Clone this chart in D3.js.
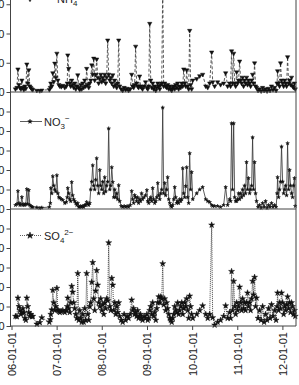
<!DOCTYPE html>
<html>
<head>
<meta charset="utf-8">
<script src="https://cdn.jsdelivr.net/npm/d3@7"></script>
<style>
  body { margin: 0; background: #fff; }
  svg { display: block; font-family: "Liberation Sans", Arial, sans-serif; }
</style>
</head>
<body>
<div id="chart"></div>
<script>
// sample dates (shared by the three ions)
const sampleDates = [
  "2006-02-02","2006-02-14","2006-02-22","2006-03-02","2006-03-10","2006-03-18","2006-03-26","2006-04-03","2006-04-11","2006-04-19",
  "2006-04-27","2006-05-05","2006-05-13","2006-05-21","2006-05-29","2006-06-06","2006-06-14","2006-06-22","2006-07-25","2006-08-18",
  "2006-09-03","2006-11-03","2006-11-11","2006-11-15","2006-11-23","2006-12-01","2006-12-09","2006-12-17","2006-12-25",
  "2007-01-03","2007-01-11","2007-01-19","2007-01-27","2007-02-08","2007-02-20","2007-03-08","2007-03-20","2007-03-28","2007-04-01",
  "2007-04-09","2007-04-17","2007-04-25","2007-05-03","2007-05-11","2007-05-19","2007-05-27","2007-06-05","2007-06-13","2007-06-21",
  "2007-06-29","2007-07-07","2007-07-15","2007-07-23","2007-07-31","2007-08-08","2007-08-16","2007-08-24","2007-09-01","2007-09-10",
  "2007-09-18","2007-09-26","2007-10-04","2007-10-12","2007-10-20","2007-10-28","2007-11-05","2007-11-13","2007-11-21","2007-11-29",
  "2007-12-07","2007-12-16","2007-12-24",
  "2008-01-01","2008-01-09","2008-01-17","2008-01-25","2008-02-02","2008-02-10","2008-02-18","2008-02-26","2008-03-06","2008-03-14",
  "2008-03-22","2008-03-30","2008-04-07","2008-04-15","2008-04-23","2008-05-01","2008-05-09","2008-05-17","2008-05-25","2008-06-06",
  "2008-06-18","2008-06-30","2008-07-12","2008-07-24","2008-08-05","2008-08-18","2008-08-30","2008-09-07","2008-09-15","2008-09-23",
  "2008-10-01","2008-10-09","2008-10-17","2008-10-25","2008-11-02","2008-11-10","2008-11-18","2008-11-26","2008-12-08","2008-12-20",
  "2008-12-31",
  "2009-01-07","2009-01-15","2009-01-23","2009-01-31","2009-02-08","2009-02-16","2009-02-24","2009-03-04","2009-03-13","2009-03-21",
  "2009-03-29","2009-04-06","2009-04-14","2009-04-22","2009-04-30","2009-05-08","2009-05-16","2009-05-24","2009-06-01","2009-06-09",
  "2009-06-17","2009-06-26","2009-07-04","2009-07-12","2009-07-20","2009-07-28","2009-08-05","2009-08-13","2009-08-21","2009-08-29",
  "2009-09-06","2009-09-14","2009-09-22","2009-10-01","2009-10-09","2009-10-17","2009-10-25","2009-11-02","2009-11-10","2009-11-18",
  "2009-11-26","2009-12-04","2009-12-12","2009-12-20","2009-12-28",
  "2010-01-06","2010-02-07","2010-03-03","2010-03-27","2010-04-21","2010-05-07","2010-05-23","2010-06-08","2010-06-16","2010-07-02",
  "2010-07-26","2010-08-19","2010-09-13","2010-09-29","2010-10-15","2010-10-31","2010-11-08","2010-11-16","2010-11-24","2010-12-03",
  "2010-12-11","2010-12-19","2010-12-27",
  "2011-01-04","2011-01-12","2011-01-20","2011-01-28","2011-02-05","2011-02-13","2011-02-21","2011-03-01","2011-03-09","2011-03-17",
  "2011-03-25","2011-04-02","2011-04-11","2011-04-19","2011-04-27","2011-05-05","2011-05-13","2011-05-21","2011-05-29","2011-06-06",
  "2011-06-18","2011-06-30","2011-07-13","2011-07-25","2011-08-06","2011-08-18","2011-08-30","2011-09-11","2011-09-23","2011-10-05",
  "2011-10-17","2011-10-30","2011-11-11","2011-11-19","2011-11-23","2011-12-01","2011-12-09","2011-12-17","2011-12-25",
  "2012-01-03","2012-01-11","2012-01-19","2012-01-27","2012-02-04","2012-02-12","2012-02-20","2012-02-28","2012-03-07","2012-03-15",
  "2012-03-23","2012-03-31","2012-04-08","2012-04-14"
];

// NH4+
const nh4 = [
  1.0,1.5,7.8,2.5,1.5,1.0,4.0,1.5,0.8,2.0, 1.2,9.5,3.0,7.5,2.0,1.5,1.0,0.8,0.5,0.4, 0.6,0.8,1.5,3.0,2.0,6.5,3.5,9.8,5.0,
  13.2,4.0,2.5,2.0,1.8,2.2,1.5,2.0,3.0,12.6, 8.0,3.0,2.0,4.0,2.5,1.5,3.0,1.0,2.0,5.8, 1.5,0.8,2.5,1.0,3.0,1.5,4.0,2.0,8.0,2.5,
  1.5,3.0,4.0,9.2,6.0,11.5,4.0,6.0,11.2,5.0, 3.0,4.5,6.0,
  3.5,5.0,4.0,6.0,3.0,5.0,17.7,6.0,4.0,5.0, 3.0,5.8,2.0,4.0,2.5,1.5,3.0,17.7,2.0,1.0, 0.5,1.5,0.8,1.2,0.5,1.0,6.0,2.0,1.5,2.5,
  15.6,3.0,2.0,1.5,5.4,2.0,1.5,1.0,2.0,3.4, 1.5,
  1.0,2.0,23.4,4.0,1.5,3.0,1.0,2.0,0.5,1.5, 3.0,2.0,1.0,2.5,3.0,36.0,2.0,3.0,2.0,1.5, 2.5,1.0,2.0,1.0,0.5,1.5,2.0,1.0,2.5,1.5,
  3.0,1.0,2.0,1.5,3.0,2.0,7.8,3.0,2.0,7.5, 2.0,1.0,21.0,2.5,1.0,
  4.0,4.5,5.5,6.0,2.0,1.5,3.0,13.6,3.4,2.0, 3.4,2.5,3.0,6.5,2.0,3.0,2.0,14.0,3.0,13.2, 3.0,2.0,6.8,
  3.0,4.0,10.5,4.0,3.0,5.0,2.0,4.0,3.0,5.0, 2.5,4.0,3.0,2.0,4.0,6.0,3.0,9.9,2.0,1.5, 0.5,1.0,0.3,1.5,0.5,1.0,0.3,1.2,0.5,2.0,
  0.8,1.5,0.5,3.0,7.2,3.0,2.0,9.9,4.0,
  3.0,2.0,4.0,3.0,2.0,12.0,3.0,4.0,2.5,5.0, 2.0,1.5,3.0,1.0
];

// NO3-
const no3 = [
  2,2.5,9.2,3,2,2.5,6.1,2,2.5,2, 2.5,10.2,2.5,9.7,2,1.5,1,1,0.8,0.5, 0.7,1,3,10.7,8,16.8,12,10,9,
  17.3,8,6,5.6,5,4.6,3,3.5,6,10.7, 8,5,4,13.8,7,5,4,3,2,3, 1,1,1.5,1,1.5,1,2,2,3.6,2.5,
  2,3,10,14,22.4,12,10,15,26,12, 8,20,12,
  10,14,8,16.3,9,12,14,41.3,10,12, 21.4,13.8,6,10,6,8,5,12.2,4,1.5, 1,1.5,1,1.5,1,2,9.2,5,3,7.1,
  6,4,6,3,5,4,8,5,6,7, 9.7,
  4,3,5,6,4,10.7,5,3,4,6, 13.3,7,5,8,10,52,8,13.3,7,10, 16.3,5,3,1.5,1,2,5,11.2,6,3,
  4,3,5,4,5,20.9,8,6,11.7,21.4, 6,3,28.6,10,18.9,
  5,8,10,11.2,5,4,3.5,2,1.5,1.5, 1.5,1,2,11.2,2,5,4,43.9,10,43.9, 6,4,4,
  5,8,5,8,6,10,7,12,8,24, 10,15.8,8,10,12,36.7,10,24,8,4, 1,2,0.5,3,1,4,0.5,2,1,3,
  1,2,1,8,16.3,6,10,14,32,
  14,8,10,12,7,33.7,10,20,12,8, 6,12,15.8,1.5
];

// SO4 2-
const so4 = [
  5,4.8,14.4,10,8,6,7,9,6.8,4, 3,14.4,10,7,5,6,4.8,5,1.0,1.8, 4.3,2,3.3,6,8.3,18.4,12,8,10,
  19.4,8.3,7.5,7,7.5,8,7,8,10,14.4, 9,7,12,20.4,17.4,12,9,6,4,27, 3,8,4,2,6,2,9,3,27,6,
  3,10,12,22.5,32.6,14,8,18,28.5,21, 12,10,14,
  8,11,6,12,9,14,13,42.7,10,8, 24.5,21,8,12,6,10,7,12,5,3, 2,6,3,5,4,6,13.4,8,9,6,
  7,5,8,4,5,6,4,3,5,4, 6,
  3,4,8,10,6,12,5,7,3,9, 12,15,12,15,14,32,10.9,14,8,12, 9,6,4,3,2,4,6,10,8,7,
  11.9,6,8,10,12,6,9,12,10,14, 8,4,15.4,10,6,
  4,6,8,10.4,6,4,6,51.8,4.3,0.5, 2,3,5,10.4,4,7,4,28,8,23, 10,6,12,
  8,10,20,12,8,14,9,12,8,12, 17,10,12,8,14,23,16,25,10,14.4, 4,8,3,10,2,6,3,9,4,11,
  5,8,3,10,17,8,12,9,17,
  12,6,10,8,11,15,9,12,7,12, 10,6,8,5
];

// axis ticks
const yearTicks = ["2006-01-01","2007-01-01","2008-01-01","2009-01-01","2010-01-01","2011-01-01","2012-01-01"];
const nh4Ticks = [0, 10, 20, 30];
const no3Ticks = [0, 10, 20, 30, 40, 50];
const so4Ticks = [0, 10, 20, 30, 40, 50];

// constants
const width = 299;
const height = 385;
const left = 10.5;
const right = 296;
const parse = d3.timeParse("%Y-%m-%d");
const dates = sampleDates.map(parse);

const x = d3.scaleTime()
    .domain([parse("2006-01-01"), parse("2012-04-20")])
    .range([11.5, right]);

const svg = d3.select("#chart")
    .append("svg")
    .attr("width", width)
    .attr("height", height);

// panel settings
const panels = [
    {values: nh4, ticks: nh4Ticks, top: -25, bottom: 92, max: 40,
     symbol: d3.symbolTriangle, size: 8, rotate: 180, dash: "3,2", lineW: 0.8},
    {values: no3, ticks: no3Ticks, top: 92, bottom: 209, max: 60,
     symbol: d3.symbolStar, size: 4, rotate: 0, dash: null, lineW: 0.8},
    {values: so4, ticks: so4Ticks, top: 209, bottom: 326, max: 60,
     symbol: d3.symbolStar, size: 11, rotate: 0, dash: "1,1", lineW: 0.9}
];

panels.forEach(function(p) {
    const y = d3.scaleLinear().domain([0, p.max]).range([p.bottom, p.top]);
    const g = svg.append("g");

    const pts = dates.map((d, i) => [d, p.values[i]]);

    g.append("path")
        .datum(pts)
        .attr("fill", "none")
        .attr("stroke", "#333")
        .attr("stroke-width", p.lineW)
        .attr("stroke-dasharray", p.dash)
        .attr("d", d3.line().x(d => x(d[0])).y(d => y(d[1])));

    g.selectAll(".pt")
        .data(pts)
        .enter().append("path")
        .attr("class", "pt")
        .attr("d", d3.symbol().type(p.symbol).size(p.size))
        .attr("transform", d => `translate(${x(d[0])},${y(d[1])}) rotate(${p.rotate})`)
        .attr("fill", "#111")
        .attr("stroke", "#111")
        .attr("stroke-width", 0.5);

    // left axis
    const ax = svg.append("g")
        .attr("transform", `translate(${left},0)`)
        .call(d3.axisLeft(y).tickValues(p.ticks).tickSize(4).tickPadding(2).tickFormat(d3.format("d")));
    ax.select(".domain").remove();
    ax.selectAll("line").attr("stroke", "#444");
    ax.selectAll("text").attr("font-size", 11).attr("fill", "#222")
        .attr("font-family", "Liberation Sans, Arial, sans-serif");

    // panel bottom line
    svg.append("line")
        .attr("x1", left).attr("x2", right)
        .attr("y1", p.bottom).attr("y2", p.bottom)
        .attr("stroke", "#444");
});

// frame lines
svg.append("line").attr("x1", left).attr("x2", left).attr("y1", -30).attr("y2", 327).attr("stroke", "#444");
svg.append("line").attr("x1", right).attr("x2", right).attr("y1", -30).attr("y2", 326).attr("stroke", "#444");

// bottom date axis
const xa = svg.append("g")
    .attr("transform", "translate(0,326)")
    .call(d3.axisBottom(x).tickValues(yearTicks.map(parse)).tickSize(4).tickFormat(d3.timeFormat("%y-%m-%d")));
xa.select(".domain").remove();
xa.selectAll("line").attr("stroke", "#444");
xa.selectAll("text")
    .attr("font-size", 11)
    .attr("fill", "#222")
    .attr("font-family", "Liberation Sans, Arial, sans-serif")
    .attr("text-anchor", "end")
    .attr("transform", "rotate(-90)")
    .attr("x", -6)
    .attr("y", 0)
    .attr("dy", "0.35em");

// legends
function legend(yPos, x1, x2, mx, tx, symbol, size, rot, dash, label) {
    const g = svg.append("g");
    g.append("line")
        .attr("x1", x1).attr("x2", x2).attr("y1", yPos).attr("y2", yPos)
        .attr("stroke", "#333").attr("stroke-width", 0.8).attr("stroke-dasharray", dash);
    g.append("path")
        .attr("d", d3.symbol().type(symbol).size(size))
        .attr("transform", `translate(${mx},${yPos}) rotate(${rot})`)
        .attr("fill", "#111").attr("stroke", "#111").attr("stroke-width", 0.5);
    const t = g.append("text")
        .attr("x", tx).attr("y", yPos + 4)
        .attr("font-size", 11).attr("fill", "#222");
    t.append("tspan").text(label[0]);
    t.append("tspan").attr("font-size", 8).attr("dy", 3).text(label[1]);
    t.append("tspan").attr("font-size", 8).attr("dy", -8).text(label[2]);
}

legend(-1, 16, 50, 30, 57, d3.symbolTriangle, 10, 180, "3,2", ["NH", "4", "+"]);
legend(121.5, 20, 42, 30, 44, d3.symbolStar, 6, 0, null, ["NO", "3", "\u2212"]);
legend(235.5, 20, 42, 30, 44, d3.symbolStar, 14, 0, "1,1", ["SO", "4", "2\u2212"]);
</script>
</body>
</html>
